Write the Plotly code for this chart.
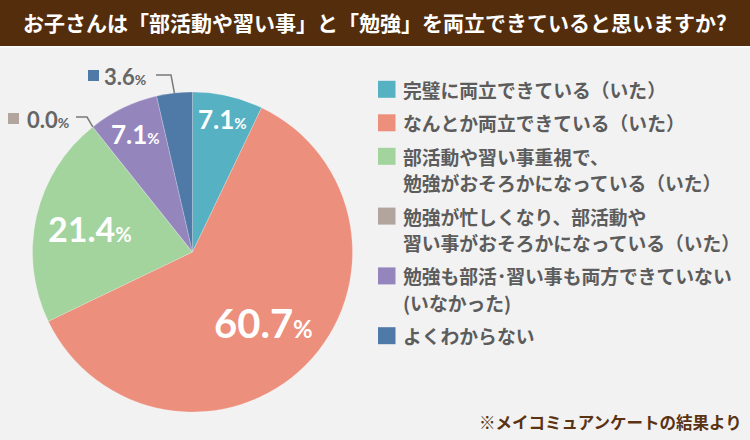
import math
import plotly.graph_objects as go

W, H = 750, 440

# ---- data ----
title_text = "お子さんは「部活動や習い事」と「勉強」を両立できていると思いますか?"
footnote_text = "※メイコミュアンケートの結果より"
categories = [
    "完璧に両立できている（いた）",
    "なんとか両立できている（いた）",
    "部活動や習い事重視で、勉強がおそろかになっている（いた）",
    "勉強が忙しくなり、部活動や習い事がおそろかになっている（いた）",
    "勉強も部活・習い事も両方できていない（いなかった）",
    "よくわからない",
]
legend_lines = [
    ["完璧に両立できている（いた）"],
    ["なんとか両立できている（いた）"],
    ["部活動や習い事重視で、", "勉強がおそろかになっている（いた）"],
    ["勉強が忙しくなり、部活動や", "習い事がおそろかになっている（いた）"],
    ["勉強も部活･習い事も両方できていない", "(いなかった)"],
    ["よくわからない"],
]
values = [7.1, 60.7, 21.4, 0.0, 7.1, 3.6]
colors = ["#56b1c2", "#ec8f7c", "#a3d49e", "#b1a59e", "#9585bd", "#4f79a6"]

# ---- style / layout constants ----
BG = "#f2f2f2"
BAR = "#532d0c"
JP = "Noto Sans CJK JP"
NUM = "Lato"
CX, CY, R = 192.5, 252.0, 160.0


def px(x):
    return x / W


def py(y):
    return 1 - y / H


fig = go.Figure()
fig.add_trace(go.Pie(
    labels=categories,
    values=values,
    marker=dict(colors=colors, line=dict(color="rgba(255,255,255,0.35)", width=0.6)),
    sort=False,
    direction="clockwise",
    rotation=0,
    textinfo="none",
    hoverinfo="label+percent",
    showlegend=False,
    domain=dict(x=[px(CX - R), px(CX + R)], y=[py(CY + R), py(CY - R)]),
))

shapes = []
annotations = []

# title bar
shapes.append(dict(type="rect", xref="paper", yref="paper", x0=0, x1=1,
                   y0=py(46), y1=1, fillcolor=BAR, line=dict(width=0), layer="below"))
shapes.append(dict(type="rect", xref="paper", yref="paper", x0=0, x1=1,
                   y0=py(47.5), y1=py(46), fillcolor="#ffffff", line=dict(width=0), layer="below"))
annotations.append(dict(text=f"<b>{title_text}</b>", xref="paper", yref="paper",
                        x=px(375), y=py(22), xanchor="center", yanchor="middle",
                        showarrow=False, font=dict(family=JP, size=21, color="white")))

# slice labels
total = sum(values)
inside_style = {0: (0.85, 26, 15), 1: (0.625, 40, 24), 2: (0.66, 34, 20), 4: (0.82, 26, 15)}
cum = 0.0
mids = []
for i, v in enumerate(values):
    f = (cum + v / 2) / total
    mids.append(2 * math.pi * f)
    cum += v

for i, (rf, big, small) in inside_style.items():
    th = mids[i]
    x = CX + rf * R * math.sin(th)
    y = CY - rf * R * math.cos(th)
    annotations.append(dict(
        text=f"<b>{values[i]:.1f}<span style='font-size:{small}px'>%</span></b>",
        xref="paper", yref="paper", x=px(x), y=py(y), xanchor="center", yanchor="middle",
        showarrow=False, font=dict(family=NUM, size=big, color="white")))

# outside labels for small slices: (index, square x0, text x, text y, elbow points)
outside = [
    (5, 88, 102, 76, [(156, 75), (171, 75)]),
    (3, 8, 25, 119, [(76, 117), (87, 117)]),
]
for i, sqx, tx, ty, elbow in outside:
    shapes.append(dict(type="rect", xref="paper", yref="paper",
                       x0=px(sqx), x1=px(sqx + 11), y0=py(ty + 5), y1=py(ty - 6),
                       fillcolor=colors[i], line=dict(width=0)))
    annotations.append(dict(
        text=f"<b>{values[i]:.1f}<span style='font-size:14px'>%</span></b>",
        xref="paper", yref="paper", x=px(tx), y=py(ty), xanchor="left", yanchor="middle",
        showarrow=False, font=dict(family=NUM, size=22, color="#666666")))
    # leader line to pie edge at slice angle (boundary for a zero slice)
    th = mids[i]
    ex = CX + R * math.sin(th)
    ey = CY - R * math.cos(th)
    pts = elbow + [(ex, ey)]
    path = "M " + " L ".join(f"{px(a):.5f},{py(b):.5f}" for a, b in pts)
    shapes.append(dict(type="path", xref="paper", yref="paper", path=path,
                       line=dict(color="#7a7a7a", width=1.5)))

# legend
LX_SQ, LX_TXT = 378, 403
y = 89.3
LINE_STEP, ITEM_STEP = 26.3, 33.5
for i, lines in enumerate(legend_lines):
    shapes.append(dict(type="rect", xref="paper", yref="paper",
                       x0=px(LX_SQ), x1=px(LX_SQ + 17.5), y0=py(y + 8.5), y1=py(y - 8.5),
                       fillcolor=colors[i], line=dict(width=0)))
    for j, ln in enumerate(lines):
        annotations.append(dict(
            text=f"<b>{ln}</b>", xref="paper", yref="paper",
            x=px(LX_TXT - 2), y=py(y + j * LINE_STEP), xanchor="left", yanchor="middle",
            showarrow=False, font=dict(family=JP, size=18.8, color="#5c5c5c")))
    y += (len(lines) - 1) * LINE_STEP + ITEM_STEP

# footnote
annotations.append(dict(text=f"<b>{footnote_text}</b>", xref="paper", yref="paper",
                        x=px(744), y=py(421.5), xanchor="right", yanchor="middle",
                        showarrow=False, font=dict(family=JP, size=16.5, color="#5a3313")))

fig.update_layout(
    width=W, height=H,
    margin=dict(l=0, r=0, t=0, b=0),
    paper_bgcolor=BG, plot_bgcolor=BG,
    shapes=shapes, annotations=annotations,
    showlegend=False,
)

fig.write_html("out.html")
